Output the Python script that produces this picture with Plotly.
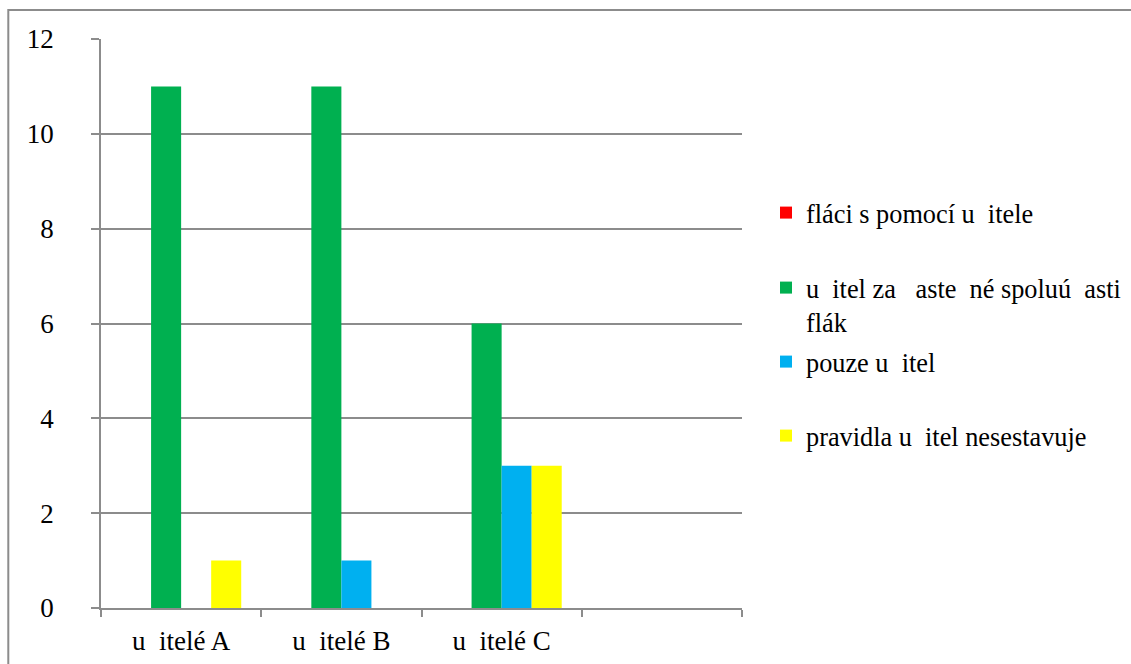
import plotly.graph_objects as go

# Groups on the category axis (the fourth slot is left empty)
groups = ["u\u00a0\u00a0itelé A", "u\u00a0\u00a0itelé B", "u\u00a0\u00a0itelé C"]
slots = 4

# Series names and counts per group
series_names = [
    "fláci s pomocí u\u00a0\u00a0itele",
    "u\u00a0\u00a0itel za\u00a0\u00a0\u00a0aste\u00a0\u00a0né spoluú\u00a0\u00a0asti<br>flák",
    "pouze u\u00a0\u00a0itel",
    "pravidla u\u00a0\u00a0itel nesestavuje",
]
series_values = [
    [0, 0, 0],
    [11, 11, 6],
    [0, 1, 3],
    [1, 0, 3],
]
series_colors = ["#FF0000", "#00B050", "#00B0F0", "#FFFF00"]

y_ticks = [0, 2, 4, 6, 8, 10, 12]

W, H = 1131, 664
L, R, T, B = 101, 389, 39, 56
PW, PH = W - L - R, H - T - B

FONT = "Liberation Serif"
GRID = "#8c8c8c"


def px_x(px):
    return (px - L) / PW


def px_y(py):
    return (H - B - py) / PH


fig = go.Figure()
x_pos = list(range(len(groups)))
legend_ids = ["legend", "legend2", "legend3", "legend4"]
for name, vals, col, lg in zip(series_names, series_values, series_colors, legend_ids):
    fig.add_trace(go.Bar(
        x=x_pos, y=vals, name=name, marker=dict(color=col, line=dict(width=0)),
        legend=lg, showlegend=True,
    ))

# One legend per entry so each row sits at its own height (container coords)
legend_tops = [189, 264, 338, 412]
legend_common = dict(
    xref="container", yref="container",
    xanchor="left", yanchor="top", bgcolor="rgba(0,0,0,0)", borderwidth=0,
    font=dict(family=FONT, size=26.3, color="black"), valign="top",
)
legend_layout = {}
for lg, top in zip(legend_ids, legend_tops):
    legend_layout[lg] = dict(x=766 / W, y=1 - top / H, **legend_common)

fig.update_layout(
    width=W, height=H,
    margin=dict(l=L, r=R, t=T, b=B, pad=0),
    paper_bgcolor="white", plot_bgcolor="white",
    showlegend=True,
    barmode="group", bargap=0.25, bargroupgap=0,
    font=dict(family=FONT, size=27, color="black"),
    xaxis=dict(
        range=[-0.5, slots - 0.5], tickvals=x_pos, ticktext=groups,
        ticks="", showgrid=False, zeroline=False, automargin=False,
        showline=True, linecolor=GRID, linewidth=1.6,
        tickfont=dict(family=FONT, size=27, color="black"),
        ticklabelstandoff=8,
        minor=dict(tickvals=[i - 0.5 for i in range(slots + 1)], ticks="outside",
                   ticklen=7, tickcolor=GRID, tickwidth=1.6, showgrid=False),
    ),
    yaxis=dict(
        range=[0, 12], tickvals=y_ticks, ticks="outside", ticklen=8, automargin=False,
        tickcolor=GRID, tickwidth=1.6, showgrid=True, gridcolor=GRID, gridwidth=1.6,
        zeroline=False, showline=True, linecolor=GRID, linewidth=1.6,
        tickfont=dict(family=FONT, size=27, color="black"),
        ticklabelstandoff=32,
    ),
    **legend_layout,
    shapes=[dict(
        type="rect", xref="paper", yref="paper",
        x0=px_x(8.3), x1=px_x(1300), y0=px_y(800), y1=px_y(10),
        line=dict(color="#8c8c8c", width=2), fillcolor="rgba(0,0,0,0)", layer="below",
    )],
)

fig.write_html("out.html")
